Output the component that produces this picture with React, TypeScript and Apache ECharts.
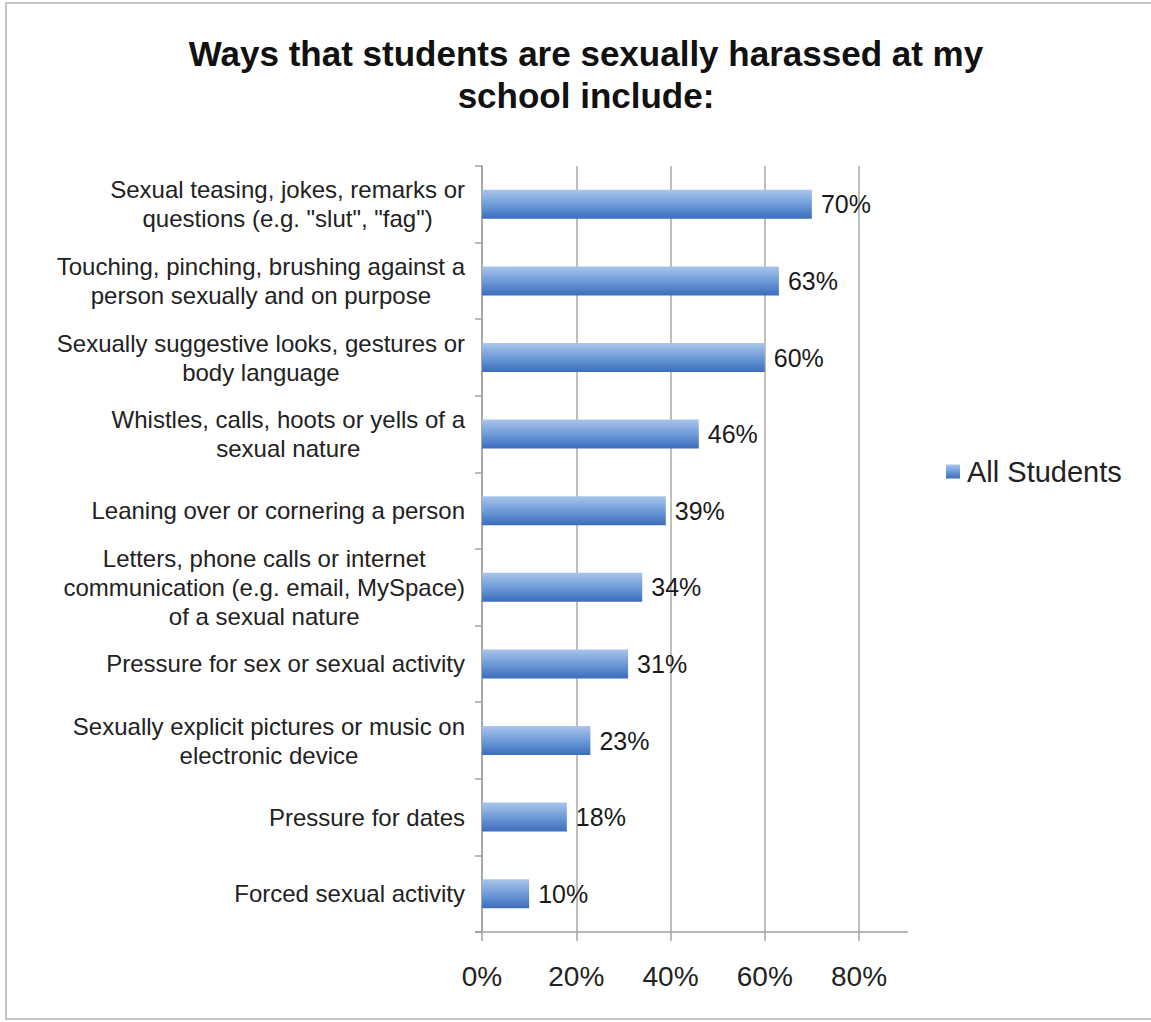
import React, { useEffect, useRef } from "react";
import * as echarts from "echarts";

const titleText = "Ways that students are sexually harassed at my\nschool include:";
const seriesName = "All Students";
const categories = [
  "Sexual teasing, jokes, remarks or\nquestions (e.g. \"slut\", \"fag\")",
  "Touching, pinching, brushing against a\nperson sexually and on purpose",
  "Sexually suggestive looks, gestures or\nbody language",
  "Whistles, calls, hoots or yells of a\nsexual nature",
  "Leaning over or cornering a person",
  "Letters, phone calls or internet\ncommunication (e.g. email, MySpace)\nof a sexual nature",
  "Pressure for sex or sexual activity",
  "Sexually explicit pictures or music on\nelectronic device",
  "Pressure for dates",
  "Forced sexual activity",
];
const values = [70, 63, 60, 46, 39, 34, 31, 23, 18, 10];
const xMin = 0;
const xMax = 80;
const xInterval = 20;

const FONT = '"Liberation Sans", Arial, Helvetica, sans-serif';

export default function App() {
  const ref = useRef<HTMLDivElement>(null);
  useEffect(() => {
    if (!ref.current) return;
    const chart = echarts.init(ref.current, undefined, { renderer: "svg" });
    const gridLeft = 482;
    const gridTop = 166;
    const gridWidth = 377;
    const gridHeight = 766;
    chart.setOption({
      animation: false,
      backgroundColor: "#ffffff",
      textStyle: { fontFamily: FONT },
      title: {
        text: titleText,
        left: 581,
        top: 27,
        textAlign: "center",
        textStyle: {
          fontFamily: FONT,
          fontSize: 35,
          fontWeight: "bold",
          color: "#111",
          lineHeight: 42,
        },
      },
      legend: {
        data: [seriesName],
        left: 941,
        top: 452,
        itemWidth: 14,
        itemHeight: 14,
        icon: "rect",
        itemGap: 10,
        textStyle: { fontFamily: FONT, fontSize: 29, color: "#222", padding: [0, 0, 0, 2] },
      },
      grid: { left: gridLeft, top: gridTop, width: gridWidth, height: gridHeight, containLabel: false },
      xAxis: {
        type: "value",
        min: xMin,
        max: xMax,
        interval: xInterval,
        axisLine: { show: false },
        axisTick: { show: true, length: 9, lineStyle: { color: "#a0a0a0", width: 1.5 } },
        splitLine: { show: true, lineStyle: { color: "#a8a8a8", width: 1.5 } },
        axisLabel: {
          formatter: "{value}%",
          fontFamily: FONT,
          fontSize: 28,
          color: "#222",
          margin: 30,
        },
      },
      yAxis: {
        type: "category",
        data: categories,
        inverse: true,
        axisLine: { show: true, lineStyle: { color: "#a0a0a0", width: 1.5 } },
        axisTick: { show: true, length: 7, lineStyle: { color: "#a0a0a0", width: 1.5 } },
        splitLine: { show: false },
        axisLabel: {
          margin: 17,
          align: "right",
          formatter: (v: string) =>
            v
              .split("\n")
              .map((l) => `{c|${l}}`)
              .join("\n"),
          rich: {
            c: {
              align: "center",
              fontFamily: FONT,
              fontSize: 24,
              lineHeight: 29,
              color: "#222",
            },
          },
        },
      },
      series: [
        {
          name: seriesName,
          type: "bar",
          data: values,
          barWidth: 29,
          itemStyle: {
            color: new echarts.graphic.LinearGradient(0, 0, 0, 1, [
              { offset: 0, color: "#a9c5eb" },
              { offset: 0.5, color: "#6f9bd8" },
              { offset: 1, color: "#3b6dbd" },
            ]),
          },
          label: {
            show: true,
            position: "right",
            distance: 9,
            formatter: "{c}%",
            fontFamily: FONT,
            fontSize: 25,
            color: "#1a1a1a",
          },
        },
      ],
      graphic: [
        {
          type: "rect",
          shape: { x: 6, y: 3, width: 1170, height: 1016 },
          style: { fill: "none", stroke: "#c4c4c4", lineWidth: 2 },
          silent: true,
        },
        {
          type: "line",
          shape: { x1: 475, y1: gridTop + gridHeight, x2: 908, y2: gridTop + gridHeight },
          style: { stroke: "#a0a0a0", lineWidth: 1.5 },
          silent: true,
        },
      ],
    });
    return () => chart.dispose();
  }, []);
  return (
    <div
      ref={ref}
      style={{ position: "absolute", left: 0, top: 0, width: 1151, height: 1022, background: "#fff" }}
    />
  );
}
